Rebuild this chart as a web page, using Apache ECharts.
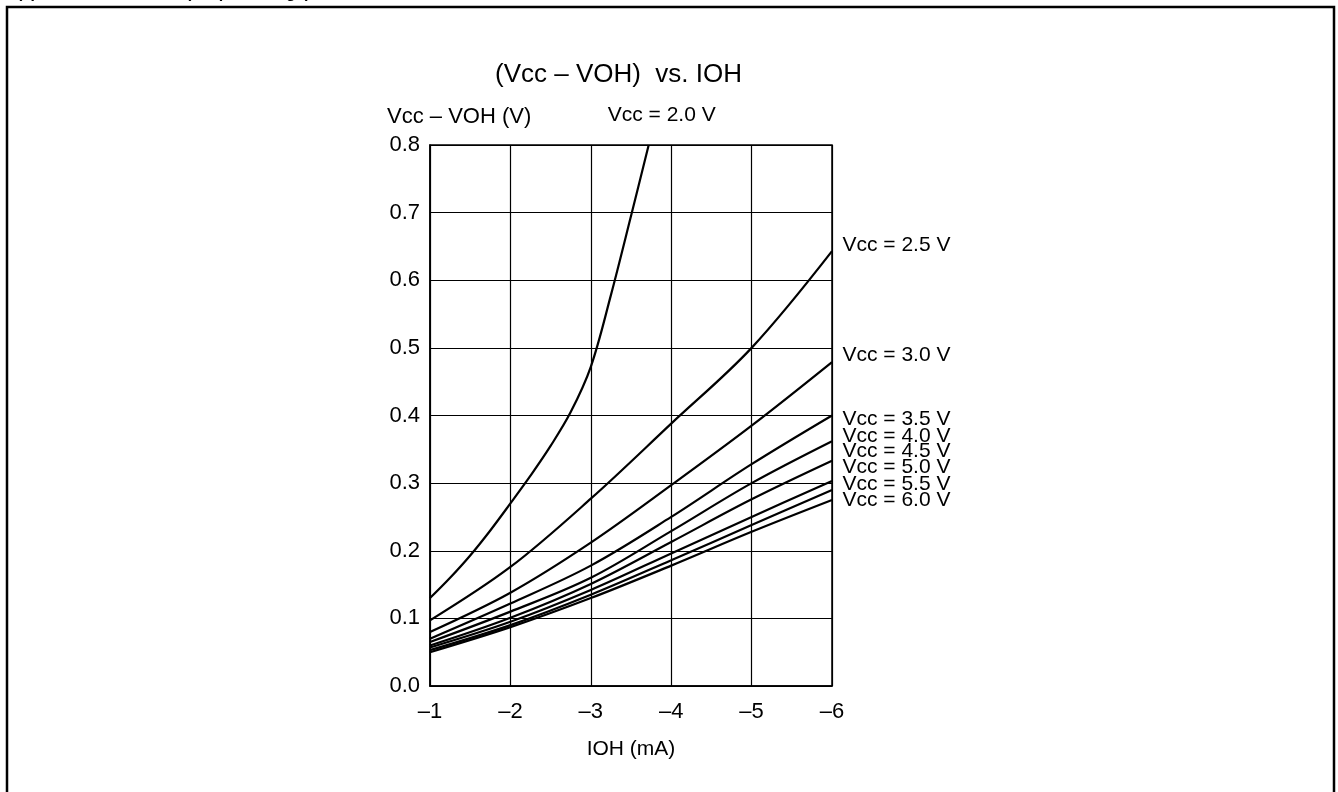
<!DOCTYPE html>
<html><head><meta charset="utf-8">
<script src="https://cdn.jsdelivr.net/npm/echarts@6/dist/echarts.min.js"></script>
<style>html,body{margin:0;padding:0;background:#fff}#c{width:1338px;height:792px}</style>
</head><body><div id="c"></div>
<script>
// ---------- data ----------
const vccNames = ['2.0','2.5','3.0','3.5','4.0','4.5','5.0','5.5','6.0'];
const ioh = [-1,-2,-3,-4,-5,-6];
const ioh20 = [-1,-1.25,-1.5,-1.75,-2,-2.25,-2.5,-2.75,-3,-3.25,-3.5,-3.72];
const v20 = [0.130,0.160,0.193,0.230,0.270,0.311,0.355,0.405,0.472,0.578,0.695,0.800];
const v25 = [0.097,0.176,0.277,0.388,0.500,0.643];
const v30 = [0.080,0.138,0.212,0.297,0.385,0.479];
const v35 = [0.070,0.122,0.178,0.250,0.328,0.400];
const v40 = [0.065,0.110,0.160,0.229,0.300,0.362];
const v45 = [0.060,0.101,0.151,0.213,0.276,0.333];
const v50 = [0.057,0.095,0.142,0.196,0.250,0.303];
const v55 = [0.053,0.090,0.135,0.186,0.238,0.290];
const v60 = [0.050,0.087,0.130,0.178,0.228,0.275];
const xTicks = [-1,-2,-3,-4,-5,-6];
const xTickLabels = ['\u20131','\u20132','\u20133','\u20134','\u20135','\u20136'];
const yTickLabels = ['0.0','0.1','0.2','0.3','0.4','0.5','0.6','0.7','0.8'];

// ---------- layout / style ----------
const FONT = 'Arial, "Liberation Sans", sans-serif';
const labelFont = 21;
const endLabelStyle = {
  '2.0': {position:'inside', offset:[13,-30]},
  '2.5': {position:'right', distance:10, offset:[0,-6]},
  '3.0': {position:'right', distance:10, offset:[0,-7]},
  '3.5': {position:'right', distance:10, offset:[0,4]},
  '4.0': {position:'right', distance:10, offset:[0,-5]},
  '4.5': {position:'right', distance:10, offset:[0,-10]},
  '5.0': {position:'right', distance:10, offset:[0,-14]},
  '5.5': {position:'right', distance:10, offset:[0,-6]},
  '6.0': {position:'right', distance:10, offset:[0,0]}
};

const valueSets = [v20,v25,v30,v35,v40,v45,v50,v55,v60];
const xSets = [ioh20,ioh,ioh,ioh,ioh,ioh,ioh,ioh,ioh];

const lineSeries = vccNames.map((n,i)=>({
  type:'line', name:'Vcc = '+n+' V',
  data: xSets[i].map((x,j)=>[x, valueSets[i][j]]),
  showSymbol:false, smooth:0.35, clip:true,
  lineStyle:{color:'#000', width:2.2},
  silent:true, z:3
}));

const labelSeries = {
  type:'scatter', symbolSize:1, clip:false, silent:true, z:5,
  itemStyle:{color:'rgba(0,0,0,0)', opacity:1},
  data: vccNames.map((n,i)=>{
    const xs = xSets[i], ys = valueSets[i];
    return {name:n, value:[xs[xs.length-1], ys[ys.length-1]],
      label:Object.assign({show:true, formatter:'Vcc = '+n+' V', color:'#000', opacity:1,
        textBorderWidth:0, fontSize:labelFont, fontFamily:FONT}, endLabelStyle[n])};
  })
};

const chart = echarts.init(document.getElementById('c'));
chart.setOption({
  animation:false,
  backgroundColor:'#fff',
  title:[
    {text:'(Vcc \u2013 VOH)  vs. IOH', left:495, top:62, padding:0,
     textStyle:{fontFamily:FONT, fontSize:26, fontWeight:'normal', color:'#000'}},
    {text:'Vcc \u2013 VOH (V)', left:387, top:106, padding:0,
     textStyle:{fontFamily:FONT, fontSize:22, fontWeight:'normal', color:'#000'}}
  ],
  graphic:[
    {type:'rect', shape:{x:7,y:7,width:1327,height:900},
     style:{fill:'none', stroke:'#000', lineWidth:2.5}, silent:true},
    {type:'text', left:17, top:-14,
     style:{text:'(c) Vcc \u2013 VOH vs. IOH (Output Voltage)', font:'bold 16px '+FONT, fill:'#000'}}
  ],
  grid:{left:430, right:506, top:145, bottom:106, show:true, borderColor:'#000', borderWidth:1.5},
  xAxis:{
    type:'value', inverse:true, min:-6, max:-1, interval:1,
    name:'IOH (mA)', nameLocation:'middle', nameGap:53,
    nameTextStyle:{fontFamily:FONT, fontSize:21, color:'#000'},
    axisLine:{show:true, lineStyle:{color:'#000', width:1.5}},
    axisTick:{show:false},
    axisLabel:{fontFamily:FONT, fontSize:22, color:'#000', margin:15,
      formatter:v=>xTickLabels[xTicks.indexOf(Math.round(v))]},
    splitLine:{show:true, lineStyle:{color:'#000', width:1.2}}
  },
  yAxis:{
    type:'value', min:0, max:0.8, interval:0.1,
    axisLine:{show:true, lineStyle:{color:'#000', width:1.5}},
    axisTick:{show:false},
    axisLabel:{fontFamily:FONT, fontSize:22, color:'#000', margin:10,
      formatter:v=>yTickLabels[Math.round(v*10)]},
    splitLine:{show:true, lineStyle:{color:'#000', width:1.2}}
  },
  series: lineSeries.concat([labelSeries])
});
</script>
</body></html>
